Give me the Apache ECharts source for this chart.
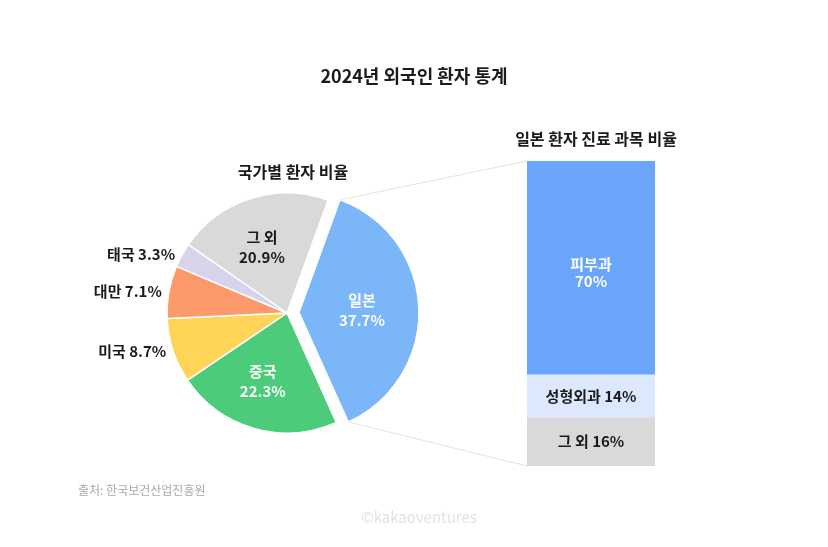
<!DOCTYPE html>
<html>
<head>
<meta charset="utf-8">
<script src="https://cdn.jsdelivr.net/npm/echarts@6/dist/echarts.min.js"></script>
<style>
  html, body { margin: 0; padding: 0; background: #fff; }
  #chart { width: 828px; height: 547px; }
</style>
</head>
<body>
<div id="chart"></div>
<script>
// 국가별 환자 비율 (pie)
var countries = ["일본", "중국", "미국", "대만", "태국", "그 외"];
var countryShare = [37.7, 22.3, 8.7, 7.1, 3.3, 20.9];
var countryColors = ["#7AB6F8", "#4CCB7A", "#FFD457", "#FD9A6C", "#D7D3EB", "#D9D9D9"];

// 일본 환자 진료 과목 비율 (stacked bar, bottom -> top)
var depts = ["그 외", "성형외과", "피부과"];
var deptShare = [16, 14, 70];
var deptColors = ["#D9D9D9", "#DBE8FD", "#69A5FB"];

var FONT = "Noto Sans CJK KR";
var DARK = "#1B1B1B";

var chart = echarts.init(document.getElementById("chart"));

var pieData = countries.map(function (name, i) {
  var item = {
    name: name,
    value: countryShare[i],
    itemStyle: { color: countryColors[i] }
  };
  if (i === 0) {
    item.selected = true;
    item.label = { position: "inside", color: "#fff" };
  } else if (i === 1) {
    item.label = { position: "inside", color: "#fff", offset: [-7, 8] };
  } else if (i === 5) {
    item.label = { position: "inside", color: DARK, offset: [-6, -6] };
  } else {
    item.label = { position: "outside", color: DARK, formatter: "{b} {c}%" };
  }
  return item;
});

var barSeries = depts.map(function (name, i) {
  var label;
  if (i === 2) {
    label = { show: true, position: "inside", color: "#fff", formatter: "{a}\n{c}%", offset: [0, 5], lineHeight: 17 };
  } else {
    label = { show: true, position: "inside", color: DARK, formatter: "{a} {c}%" };
  }
  label.fontFamily = FONT;
  label.fontSize = 15;
  label.fontWeight = "bold";
  return {
    name: name,
    type: "bar",
    stack: "dept",
    barWidth: "100%",
    silent: true,
    data: [{ value: deptShare[i], itemStyle: { color: deptColors[i] } }],
    label: label
  };
});

chart.setOption({
  animation: false,
  textStyle: { fontFamily: FONT },
  title: [
    {
      text: "2024년 외국인 환자 통계",
      left: "center",
      top: 62,
      textStyle: { fontFamily: FONT, fontSize: 18, fontWeight: "bold", color: DARK }
    },
    {
      text: "국가별 환자 비율",
      left: 288,
      textAlign: "center",
      top: 159,
      textStyle: { fontFamily: FONT, fontSize: 16, fontWeight: "bold", color: DARK }
    },
    {
      text: "일본 환자 진료 과목 비율",
      left: 591,
      textAlign: "center",
      top: 126,
      textStyle: { fontFamily: FONT, fontSize: 16, fontWeight: "bold", color: DARK }
    },
    {
      text: "출처: 한국보건산업진흥원",
      left: 73,
      top: 479,
      textStyle: { fontFamily: FONT, fontSize: 12, fontWeight: "normal", color: "#A8A8A8" }
    },
    {
      text: "©kakaoventures",
      left: 414,
      textAlign: "center",
      top: 505,
      textStyle: { fontFamily: FONT, fontSize: 15, fontWeight: "normal", color: "#E2E2E2" }
    }
  ],
  grid: { left: 527, top: 161, width: 128, height: 305 },
  xAxis: { type: "category", data: ["일본"], show: false },
  yAxis: { type: "value", min: 0, max: 100, show: false },
  series: [
    {
      type: "pie",
      center: [287, 313],
      radius: [0, 120],
      startAngle: 70,
      clockwise: true,
      selectedMode: "single",
      selectedOffset: 12,
      silent: true,
      itemStyle: { borderColor: "#fff", borderWidth: 1.5 },
      label: {
        fontFamily: FONT,
        fontSize: 15,
        fontWeight: "bold",
        lineHeight: 20,
        formatter: "{b}\n{c}%",
        distanceToLabelLine: 5
      },
      labelLine: { show: false, length: 2, length2: 0 },
      emphasis: { disabled: true },
      data: pieData
    }
  ].concat(barSeries)
});

// connector lines from the exploded Japan slice to the bar
function drawConnectors() {
  var pieModel = chart.getModel().getSeriesByIndex(0);
  var lay = pieModel.getData().getItemLayout(0);
  var mid = (lay.startAngle + lay.endAngle) / 2;
  var off = 12;
  var cx = lay.cx + Math.cos(mid) * off;
  var cy = lay.cy + Math.sin(mid) * off;
  var p1 = [cx + lay.r * Math.cos(lay.startAngle), cy + lay.r * Math.sin(lay.startAngle)];
  var p2 = [cx + lay.r * Math.cos(lay.endAngle), cy + lay.r * Math.sin(lay.endAngle)];
  var rect = chart.getModel().getComponent("grid", 0).coordinateSystem.getRect();
  var top = chart.convertToPixel({ yAxisIndex: 0 }, 100);
  var bottom = chart.convertToPixel({ yAxisIndex: 0 }, 0);
  var lineStyle = { stroke: "#E3E3E3", lineWidth: 1 };
  chart.setOption({
    graphic: [
      { type: "line", z: -1, shape: { x1: p1[0], y1: p1[1], x2: rect.x, y2: top }, style: lineStyle },
      { type: "line", z: -1, shape: { x1: p2[0], y1: p2[1], x2: rect.x, y2: bottom }, style: lineStyle }
    ]
  });
}
drawConnectors();
</script>
</body>
</html>
